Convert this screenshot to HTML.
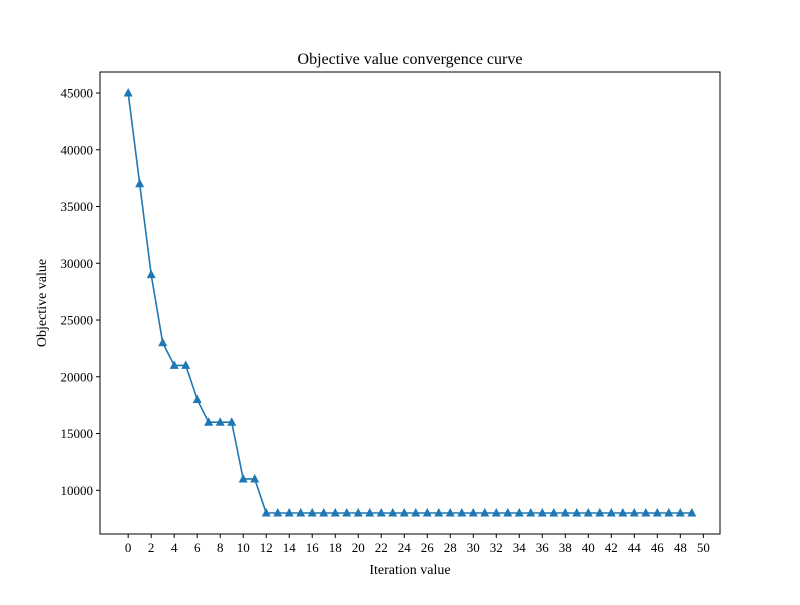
<!DOCTYPE html>
<html><head><meta charset="utf-8"><style>
body{margin:0;background:#fff}
text{font-family:"Liberation Serif","DejaVu Serif",serif;fill:#000}
</style></head><body>
<svg id="chart" width="800" height="600" xmlns="http://www.w3.org/2000/svg">
<rect width="800" height="600" fill="#fff"/>
<text x="410" y="64" font-size="16" text-anchor="middle">Objective value convergence curve</text>
<text x="410" y="574" font-size="14" text-anchor="middle">Iteration value</text>
<text x="46" y="303" font-size="14" text-anchor="middle" transform="rotate(-90 46 303)">Objective value</text>
<g id="ticks"></g>
<g id="series"></g>
<rect x="100" y="72" width="620" height="462" fill="none" stroke="#000" stroke-width="1"/>
</svg>
<script>
const iterations=[];for(let i=0;i<50;i++)iterations.push(i);
const objectiveValues=[45000,37000,29000,23000,21000,21000,18000,16000,16000,16000,11000,11000,
8000,8000,8000,8000,8000,8000,8000,8000,8000,8000,8000,8000,8000,8000,8000,8000,8000,8000,
8000,8000,8000,8000,8000,8000,8000,8000,8000,8000,8000,8000,8000,8000,8000,8000,8000,8000,8000,8000];
const xTicks=[0,2,4,6,8,10,12,14,16,18,20,22,24,26,28,30,32,34,36,38,40,42,44,46,48,50];
const yTicks=[10000,15000,20000,25000,30000,35000,40000,45000];
const NS="http://www.w3.org/2000/svg";
const L=100,R=720,T=72,B=534;
const xmin=-2.45,xmax=51.45;
const ymn=Math.min(...objectiveValues),ymx=Math.max(...objectiveValues),pad=(ymx-ymn)*0.05;
const x=v=>L+(v-xmin)/(xmax-xmin)*(R-L);
const y=v=>B-(v-(ymn-pad))/((ymx+pad)-(ymn-pad))*(B-T);
function mk(tag,at,parent){const e=document.createElementNS(NS,tag);for(const k in at)e.setAttribute(k,at[k]);parent.appendChild(e);return e;}
const tg=document.getElementById('ticks');
xTicks.forEach(t=>{
 const l=mk('line',{x1:x(t),x2:x(t),y1:B,y2:B+4,stroke:'#000'},tg);
 
 
 const s=mk('text',{x:x(t),y:B+18,'font-size':13,'text-anchor':'middle'},tg);s.textContent=t;
 
 
});
yTicks.forEach(t=>{
 const l=mk('line',{x1:L-4,x2:L,y1:y(t),y2:y(t),stroke:'#000'},tg);
 
 
 const s=mk('text',{x:L-7,y:y(t)+4.5,'font-size':13,'text-anchor':'end'},tg);s.textContent=t;
 
 
});
const sg=document.getElementById('series');
const pl=mk('polyline',{points:iterations.map((v,i)=>x(v)+','+y(objectiveValues[i])).join(' '),fill:'none',stroke:'#1f77b4','stroke-width':1.6},sg);


iterations.forEach((v,i)=>{
 const cx=x(v),cy=y(objectiveValues[i]);
 const p=mk('polygon',{points:`${cx},${cy-5} ${cx-4.5},${cy+3.5} ${cx+4.5},${cy+3.5}`,fill:'#1f77b4'},sg);
 
 
});
</script>
</body></html>
